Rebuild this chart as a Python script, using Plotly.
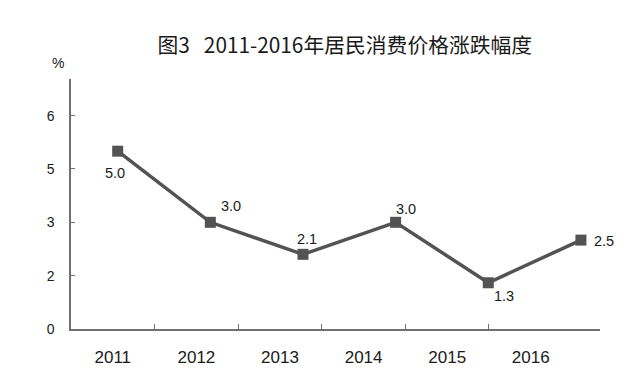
import plotly.graph_objects as go

years = ["2011", "2012", "2013", "2014", "2015", "2016"]
cpi = [5.0, 3.0, 2.1, 3.0, 1.3, 2.5]
cpi_text = ["5.0", "3.0", "2.1", "3.0", "1.3", "2.5"]
y_tickvals = [0, 1.5, 3, 4.5, 6]
y_ticktext = ["0", "2", "3", "5", "6"]
# pixel offsets of each value label from its marker
label_dx = [-2.5, 21, 4, 10.5, 16, 23.5]
label_dy = [-21.5, 16, 15, 13.5, -13, -1]

LINE = "#535353"
AXIS = "#707070"
TXT = "#1a1a1a"
FONT = "Liberation Sans, Arial, sans-serif"
NARROW = "Liberation Sans Narrow, Arial Narrow, Liberation Sans, sans-serif"
n = len(years)
boundaries = [k + 0.5 for k in range(n - 1)]

fig = go.Figure()
# carriers for the category axis line/ticks and for the category labels (invisible)
fig.add_trace(go.Scatter(x=list(range(n)), y=[None] * n, xaxis="x", yaxis="y",
                         mode="markers", showlegend=False, hoverinfo="skip"))
fig.add_trace(go.Scatter(x=list(range(n)), y=[None] * n, xaxis="x3", yaxis="y",
                         mode="markers", showlegend=False, hoverinfo="skip"))
fig.add_trace(go.Scatter(
    x=list(range(n)), y=cpi,
    xaxis="x2", yaxis="y",
    mode="lines+markers",
    line=dict(color=LINE, width=3.5),
    marker=dict(symbol="square", size=11, color=LINE),
    cliponaxis=False, showlegend=False, hoverinfo="skip",
))

annotations = [dict(text="%", xref="paper", yref="paper", x=-0.025, y=1.065,
                    xanchor="center", yanchor="middle", showarrow=False,
                    font=dict(family=FONT, size=14, color=TXT))]
for i, (v, t) in enumerate(zip(cpi, cpi_text)):
    annotations.append(dict(text=t, xref="x2", yref="y", x=i, y=v,
                            xshift=label_dx[i], yshift=label_dy[i],
                            xanchor="center", yanchor="middle", showarrow=False,
                            font=dict(family=FONT, size=14.5, color=TXT)))

xr = [-0.5, 5.828]
fig.update_layout(
    width=632, height=372,
    margin=dict(l=63, r=40, t=71, b=51, autoexpand=False),
    paper_bgcolor="white", plot_bgcolor="white",
    title=dict(text="图3\u00a0\u00a0 2011-2016年居民消费价格涨跌幅度",
               x=0.533, xanchor="center", y=0.898, yanchor="middle",
               font=dict(family="Noto Sans CJK SC", size=20.8, color=TXT)),
    xaxis=dict(type="linear", range=xr, automargin=False,
               tickmode="array", tickvals=boundaries, ticktext=[""] * len(boundaries),
               ticks="inside", ticklen=5, tickcolor=AXIS, tickwidth=1,
               showline=True, linecolor=AXIS, linewidth=1.5,
               showgrid=False, zeroline=False),
    xaxis3=dict(type="linear", range=xr, overlaying="x", anchor="y", automargin=False,
                tickmode="array", tickvals=list(range(n)), ticktext=years,
                ticks="", showline=False, showgrid=False, zeroline=False,
                ticklabelstandoff=16,
                tickfont=dict(family=NARROW, size=17, color=TXT)),
    xaxis2=dict(overlaying="x", anchor="y", range=[-0.504, 5.206], visible=False),
    yaxis=dict(range=[0, 7.03], tickmode="array", tickvals=y_tickvals, ticktext=y_ticktext,
               automargin=False,
               ticks="inside", ticklen=4, tickcolor=AXIS, tickwidth=1,
               showline=True, linecolor=AXIS, linewidth=1.5,
               showgrid=False, zeroline=False, ticklabelstandoff=12,
               tickfont=dict(family=FONT, size=14, color=TXT)),
    annotations=annotations,
)

fig.write_html("out.html")
